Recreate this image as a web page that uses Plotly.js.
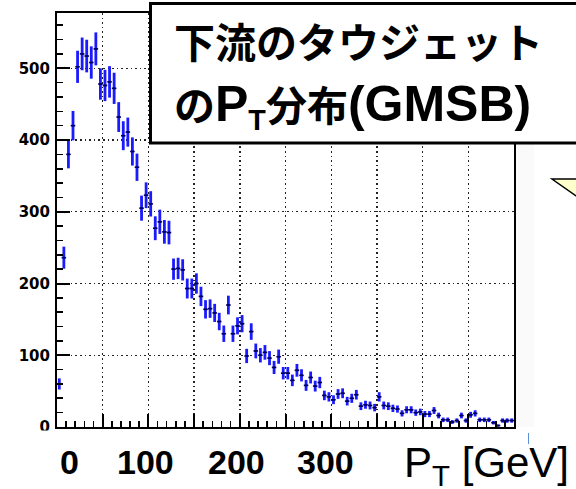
<!DOCTYPE html>
<html>
<head>
<meta charset="utf-8">
<script src="https://cdn.plot.ly/plotly-3.0.1.min.js"></script>
<style>
  html, body { margin: 0; padding: 0; background: #ffffff; }
  #chart { width: 576px; height: 489px; }
</style>
</head>
<body>
<div id="chart"></div>
<script>
// Histogram of downstream tau-jet PT (GMSB), 100 bins of 5 GeV from 0 to 500 GeV
const binStart = 2.5;      // centre of first bin [GeV]
const binWidth = 5;        // bin width [GeV]
const counts = [
  60, 236, 380, 420, 502, 520, 517, 508, 527, 478,
  476, 481, 472, 432, 406, 411, 384, 362, 305, 323,
  311, 277, 286, 272, 271, 220, 221, 219, 193, 193,
  200, 182, 164, 165, 159, 147, 130, 170, 130, 141,
  144, 99, 133, 106, 100, 104, 96, 83, 98, 75,
  75, 65, 79, 72, 58, 69, 57, 62, 44, 42,
  38, 46, 47, 36, 40, 45, 29, 31, 30, 27,
  42, 30, 29, 26, 25, 19, 24, 24, 20, 21,
  18, 18, 23, 16, 10, 10, 7, 9, 16, 9,
  17, 19, 10, 10, 10, 6, 2, 9, 9, 9
];
const yTickVals = [0, 100, 200, 300, 400, 500];
const yTickText = ['0', '100', '200', '300', '400', '500'];
const slideXLabels = ['0', '100', '200', '300'];
const titleLine1 = '下流のタウジェット';
const titleLine2 = 'の<span style="font-size:50px">P</span><sub>T</sub>分布<span style="font-size:50px">(GMSB)</span>';
const xAxisTitle = 'P<sub>T</sub> [GeV]';

// plot-area geometry in pixels (for placing slide overlays)
const W = 576, H = 489;
const L = 57, R = 514, T = 13, B = 427;
const px = v => (v - L) / (R - L);
const py = v => (B - v) / (B - T);

const trace = {
  type: 'scatter',
  mode: 'markers',
  x0: binStart,
  dx: binWidth,
  y: counts,
  marker: { size: 2, color: '#000060', symbol: 'line-ew', line: { width: 1.5, color: '#000060' } },
  error_y: { type: 'sqrt', visible: true, color: '#1a1aff', thickness: 2.8, width: 0 },
  error_x: { type: 'constant', value: binWidth / 2, visible: true, color: '#000070', thickness: 1.6, width: 0 },
  hoverinfo: 'skip',
  showlegend: false
};

const gridStyle = { showgrid: true, gridcolor: '#222', gridwidth: 1.4, griddash: '1.6px,3px' };

const labelPos = [69, 145, 236, 325];
const annotations = [
  { text: titleLine1, xref: 'paper', yref: 'paper', x: px(172), y: py(44), xanchor: 'left', yanchor: 'middle',
    showarrow: false, font: { family: 'Liberation Sans, Noto Sans CJK JP', size: 41, weight: 'bold', color: '#000' } },
  { text: titleLine2, xref: 'paper', yref: 'paper', x: px(172), y: py(106), xanchor: 'left', yanchor: 'middle',
    showarrow: false, font: { family: 'Liberation Sans, Noto Sans CJK JP', size: 41, weight: 'bold', color: '#000' } },
  { text: xAxisTitle, xref: 'paper', yref: 'paper', x: px(402), y: py(465), xanchor: 'left', yanchor: 'middle',
    showarrow: false, font: { family: 'Liberation Sans, Arial', size: 42, color: '#000' } }
];
slideXLabels.forEach((t, i) => {
  annotations.push({ text: t, xref: 'paper', yref: 'paper', x: px(labelPos[i]), y: py(462),
    xanchor: 'center', yanchor: 'middle', showarrow: false,
    font: { family: 'Liberation Sans, Arial', size: 34, weight: 'bold', color: '#000' } });
});

const shapes = [
  // faint grey strip right of the frame
  { type: 'rect', xref: 'paper', yref: 'paper', x0: px(516), x1: px(534), y0: py(427), y1: py(143),
    fillcolor: '#fafafa', line: { width: 0 }, layer: 'below' },
  // white slide area below the plot
  { type: 'rect', xref: 'paper', yref: 'paper', x0: px(0), x1: px(600), y0: py(520), y1: py(430.5),
    fillcolor: '#ffffff', line: { width: 0 }, layer: 'above' },
  // title box
  { type: 'rect', xref: 'paper', yref: 'paper', x0: px(150.5), x1: px(620), y0: py(143), y1: py(3.5),
    fillcolor: '#ffffff', line: { color: '#000', width: 3 }, layer: 'above' },
  // callout tail
  { type: 'path', xref: 'paper', yref: 'paper',
    path: `M ${px(552)} ${py(179)} L ${px(620)} ${py(179)} L ${px(620)} ${py(227)} Z`,
    fillcolor: '#ffffcc', line: { color: '#000', width: 1.5 }, layer: 'above' },
  // small blue mark
  { type: 'line', xref: 'paper', yref: 'paper', x0: px(528.5), x1: px(528.5), y0: py(444), y1: py(433),
    line: { color: '#5b8fd6', width: 1 }, layer: 'above' }
];

const layout = {
  width: W, height: H,
  margin: { l: L, r: W - R, t: T, b: H - B, pad: 0 },
  paper_bgcolor: '#ffffff',
  plot_bgcolor: '#ffffff',
  showlegend: false,
  xaxis: Object.assign({
    range: [0, 500], tick0: 0, dtick: 50, showticklabels: false,
    ticks: 'inside', ticklen: 13, tickwidth: 2, tickcolor: '#000',
    minor: { dtick: 10, ticks: 'inside', ticklen: 6, tickwidth: 1.6, tickcolor: '#000', showgrid: false },
    showline: true, linewidth: 2, linecolor: '#000', mirror: true, zeroline: false, fixedrange: true
  }, gridStyle),
  yaxis: Object.assign({
    range: [0, 577], tickvals: yTickVals, ticktext: yTickText,
    ticks: 'inside', ticklen: 13, tickwidth: 2, tickcolor: '#000',
    minor: { dtick: 20, ticks: 'inside', ticklen: 6, tickwidth: 1.6, tickcolor: '#000', showgrid: false },
    tickfont: { family: 'DejaVu Sans', size: 15, weight: 'bold', color: '#000' },
    ticklabelstandoff: 2,
    showline: true, linewidth: 2, linecolor: '#000', mirror: true, zeroline: false, fixedrange: true
  }, gridStyle),
  annotations: annotations,
  shapes: shapes
};

Plotly.newPlot('chart', [trace], layout, { displayModeBar: false, staticPlot: true });
</script>
</body>
</html>
